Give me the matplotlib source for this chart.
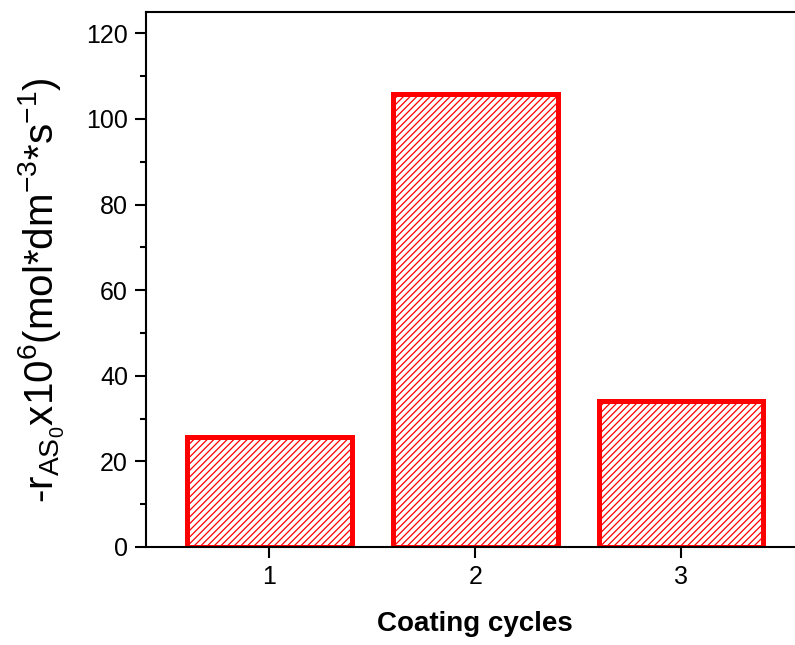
import matplotlib
matplotlib.use("Agg")
import matplotlib.pyplot as plt
from matplotlib.ticker import MultipleLocator

plt.rcParams['font.family'] = ['Liberation Sans', 'DejaVu Sans']
plt.rcParams['mathtext.fontset'] = 'custom'
plt.rcParams['mathtext.rm'] = 'Liberation Sans'
plt.rcParams['mathtext.it'] = 'Liberation Sans'
plt.rcParams['hatch.linewidth'] = 0.9

# data
cycles = [1, 2, 3]
cycle_labels = ['1', '2', '3']
rates = [25.7, 105.8, 34.1]

fig = plt.figure(figsize=(7.95, 6.45), dpi=100)
ax = fig.add_axes([146 / 795, 1 - 547 / 645, (804.6 - 146) / 795, (547 - 12) / 645])

ax.bar(cycles, rates, width=0.8, facecolor='white', edgecolor='red',
       linewidth=3.6, hatch='/////')

ax.set_xlim(0.4, 3.6)
ax.set_ylim(0, 125)
ax.set_xticks(cycles)
ax.set_xticklabels(cycle_labels)
ax.yaxis.set_major_locator(MultipleLocator(20))
ax.yaxis.set_minor_locator(MultipleLocator(10))

for s in ax.spines.values():
    s.set_linewidth(1.5)
ax.tick_params(axis='both', which='major', direction='out', length=8, width=1.5,
               labelsize=18, pad=5)
ax.tick_params(axis='y', which='minor', direction='out', length=4, width=1.5)
ax.tick_params(top=False, right=False)

ax.set_xlabel('Coating cycles', fontsize=20, fontweight='bold', labelpad=16)
ax.set_ylabel(r'-r$_{\mathregular{AS_0}}$x10$^{\mathregular{6}}$'
              r'(mol*dm$^{\mathregular{-3}}$*s$^{\mathregular{-1}}$)',
              fontsize=29)
ax.yaxis.set_label_coords(-0.12, 0.48)

fig.savefig('out.png', dpi=100)
